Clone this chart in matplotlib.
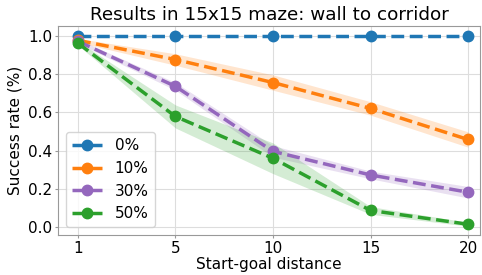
import matplotlib
matplotlib.use('Agg')
import matplotlib.pyplot as plt
import numpy as np

distances = ['1', '5', '10', '15', '20']
labels = ['0%', '10%', '30%', '50%']
colors = ['#1f77b4', '#ff7f0e', '#9467bd', '#2ca02c']

mean_0 = [1.0, 1.0, 1.0, 1.0, 1.0]
mean_10 = [0.975, 0.875, 0.755, 0.62, 0.458]
mean_30 = [0.97, 0.735, 0.396, 0.273, 0.183]
mean_50 = [0.96, 0.578, 0.36, 0.088, 0.016]

std_0 = [0.0, 0.0, 0.0, 0.0, 0.0]
std_10 = [0.01, 0.03, 0.04, 0.035, 0.04]
std_30 = [0.01, 0.02, 0.03, 0.02, 0.03]
std_50 = [0.01, 0.06, 0.08, 0.02, 0.01]

plt.rcParams['font.size'] = 11

fig, ax = plt.subplots(figsize=(4.82, 2.75), dpi=100)
x = np.arange(len(distances))
for mean, std, color, label in zip([mean_0, mean_10, mean_30, mean_50],
                                   [std_0, std_10, std_30, std_50],
                                   colors, labels):
  mean = np.array(mean)
  std = np.array(std)
  ax.plot(x, mean, '--o', color=color, lw=2.5, ms=7.5, label=label)
  ax.fill_between(x, mean - std, mean + std, color=color, alpha=0.2,
                  lw=0)

ax.set_xticks(x)
ax.set_xticklabels(distances)
ax.set_yticks([0.0, 0.2, 0.4, 0.6, 0.8, 1.0])
ax.set_ylim(-0.04, 1.05)
ax.set_xlim(-0.205, 4.123)
ax.tick_params(axis='both', length=2, pad=2, color='#999999')
ax.grid(True, color='#dddddd', lw=0.8)
ax.set_axisbelow(True)
for sp in ax.spines.values():
  sp.set_color('#999999')
ax.set_xlabel('Start-goal distance', labelpad=1)
ax.set_ylabel('Success rate (%)')
ax.set_title('Results in 15x15 maze: wall to corridor', pad=4)
ax.legend(loc='lower left', handlelength=2.0)

fig.subplots_adjust(left=0.1203, right=0.9959, top=0.9055, bottom=0.1455)
fig.savefig('out.png', dpi=100)
